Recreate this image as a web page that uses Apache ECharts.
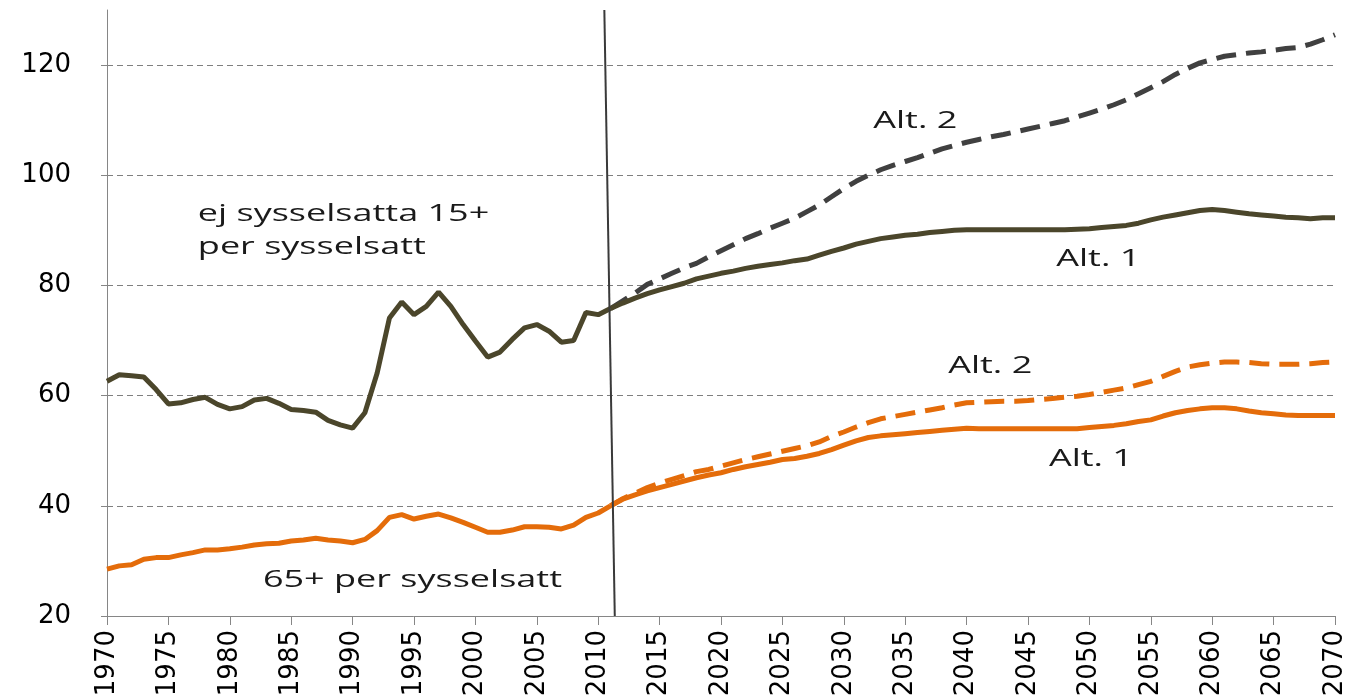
<!DOCTYPE html>
<html>
<head>
<meta charset="utf-8">
<script src="https://cdn.jsdelivr.net/npm/echarts@6/dist/echarts.min.js"></script>
<style>
html, body { margin: 0; padding: 0; background: #fff; }
#chart { width: 1350px; height: 696px; }
</style>
</head>
<body>
<div id="chart"></div>
<script>
// historiska värden 1970-2011
var histStart = 1970
var hist15 = [
    62.6, 63.8, 63.6, 63.4, 61.1, 58.5, 58.7, 59.3, 59.7, 58.4,
    57.6, 58.0, 59.2, 59.5, 58.6, 57.5, 57.3, 57.0, 55.5, 54.7,
    54.1, 56.9, 64.1, 74.1, 77.0, 74.7, 76.2, 78.8, 76.2, 72.9,
    69.9, 67.0, 67.9, 70.2, 72.3, 72.9, 71.7, 69.7, 70.0, 75.1,
    74.7, 75.8
]
var hist65 = [
    28.5, 29.1, 29.3, 30.3, 30.6, 30.6, 31.1, 31.5, 32.0, 32.0,
    32.2, 32.5, 32.9, 33.1, 33.2, 33.6, 33.8, 34.1, 33.8, 33.6,
    33.3, 33.9, 35.5, 37.9, 38.4, 37.6, 38.1, 38.5, 37.8, 37.0,
    36.1, 35.2, 35.2, 35.6, 36.2, 36.2, 36.1, 35.8, 36.5, 37.9,
    38.7, 40.0
]
// prognoser 2011-2070
var projStart = 2011
var alt1_15 = [
    75.8, 76.8, 77.7, 78.5, 79.2, 79.8, 80.4, 81.2, 81.7, 82.2,
    82.6, 83.1, 83.5, 83.8, 84.1, 84.5, 84.8, 85.5, 86.2, 86.8,
    87.5, 88.0, 88.5, 88.8, 89.1, 89.3, 89.6, 89.8, 90.0, 90.1,
    90.1, 90.1, 90.1, 90.1, 90.1, 90.1, 90.1, 90.1, 90.2, 90.3,
    90.5, 90.7, 90.9, 91.3, 91.9, 92.4, 92.8, 93.2, 93.6, 93.8,
    93.6, 93.3, 93.0, 92.8, 92.6, 92.4, 92.3, 92.1, 92.3, 92.3
]
var alt2_15 = [
    75.8, 77.2, 78.6, 80.2, 81.2, 82.2, 83.2, 84.0, 85.2, 86.3,
    87.4, 88.5, 89.4, 90.4, 91.3, 92.2, 93.4, 94.6, 96.1, 97.6,
    98.9, 100.0, 101.0, 101.8, 102.5, 103.2, 104.0, 104.8, 105.4, 106.0,
    106.5, 107.0, 107.4, 107.9, 108.4, 108.9, 109.4, 109.9, 110.6, 111.3,
    112.0, 112.8, 113.7, 114.8, 115.9, 117.0, 118.3, 119.4, 120.4, 121.0,
    121.6, 121.9, 122.2, 122.4, 122.7, 123.0, 123.2, 123.8, 124.6, 125.5
]
var alt1_65 = [
    40.0, 41.2, 42.0, 42.7, 43.3, 43.9, 44.5, 45.1, 45.6, 46.0,
    46.6, 47.1, 47.5, 47.9, 48.4, 48.6, 49.0, 49.5, 50.2, 51.0,
    51.8, 52.4, 52.7, 52.9, 53.1, 53.3, 53.5, 53.7, 53.9, 54.1,
    54.0, 54.0, 54.0, 54.0, 54.0, 54.0, 54.0, 54.0, 54.0, 54.2,
    54.4, 54.6, 54.9, 55.3, 55.6, 56.3, 56.9, 57.3, 57.6, 57.8,
    57.8, 57.6, 57.2, 56.9, 56.7, 56.5, 56.4, 56.4, 56.4, 56.4
]
var alt2_65 = [
    40.0, 41.3, 42.3, 43.3, 44.1, 44.8, 45.5, 46.2, 46.6, 47.2,
    47.8, 48.4, 48.9, 49.4, 49.9, 50.4, 50.9, 51.6, 52.6, 53.4,
    54.3, 55.1, 55.8, 56.2, 56.6, 57.0, 57.4, 57.8, 58.3, 58.7,
    58.8, 58.9, 59.0, 59.0, 59.1, 59.3, 59.5, 59.7, 59.9, 60.2,
    60.6, 61.0, 61.4, 62.0, 62.6, 63.5, 64.4, 65.2, 65.6, 65.9,
    66.1, 66.1, 66.0, 65.8, 65.7, 65.7, 65.7, 65.8, 66.0, 66.1
]
// brytlinje mellan utfall och prognos (år, värde)
var splitTop = [2010.5, 130]
var splitBottom = [2011.35, 20]
// textetiketter: [text, år, värde]
var notes = [
    ['ej sysselsatta 15+\nper sysselsatt', 1977.4, 89.9],
    ['Alt. 2', 2032.4, 109.8],
    ['Alt. 1', 2047.3, 84.7],
    ['Alt. 2', 2038.5, 65.3],
    ['Alt. 1', 2046.7, 48.4],
    ['65+ per sysselsatt', 1982.7, 26.5]
]

function pairs (start, vals) {
    return vals.map(function (v, i) { return [start + i, v] })
}

var dark = '#4b462b'
var darkDash = '#404040'
var orange = '#e46c0a'

var myChart = echarts.init(document.getElementById('chart'))
var option = {
    animation: false,
    grid: { left: 107, right: 15, top: 10, bottom: 80, outerBoundsMode: 'none', containLabel: false },
    xAxis: {
        type: 'value',
        min: 1970,
        max: 2070,
        interval: 5,
        axisLine: { lineStyle: { color: '#868686', width: 1 } },
        axisTick: { show: true, length: 9, lineStyle: { color: '#868686' } },
        axisLabel: {
            rotate: 90,
            margin: 14,
            color: '#000',
            fontFamily: 'DejaVu Sans',
            fontSize: 26,
            formatter: function (v) { return String(v) }
        },
        splitLine: { show: false }
    },
    yAxis: {
        type: 'value',
        min: 20,
        max: 130,
        interval: 20,
        axisLine: { show: true, lineStyle: { color: '#868686', width: 1 } },
        axisTick: { show: true, length: 6, lineStyle: { color: '#868686' } },
        axisLabel: {
            margin: 36,
            color: '#000',
            fontFamily: 'DejaVu Sans',
            fontSize: 26,
            showMaxLabel: false,
            formatter: function (v) { return v % 20 === 0 ? String(v) : '' }
        },
        splitLine: {
            show: true,
            showMaxLine: false,
            lineStyle: { color: '#7f7f7f', width: 1, type: [6, 4] }
        }
    },
    series: [
        {
            name: 'alt2_15',
            type: 'line',
            symbol: 'none',
            data: pairs(projStart, alt2_15),
            lineStyle: { color: darkDash, width: 5, type: [20, 10] }
        },
        {
            name: 'hist15',
            type: 'line',
            symbol: 'none',
            data: pairs(histStart, hist15),
            lineStyle: { color: dark, width: 5 },
            markLine: {
                silent: true,
                symbol: 'none',
                label: { show: false },
                lineStyle: { color: '#3a3a3a', width: 2, type: 'solid' },
                data: [[{ coord: splitTop }, { coord: splitBottom }]]
            }
        },
        {
            name: 'alt1_15',
            type: 'line',
            symbol: 'none',
            data: pairs(projStart, alt1_15),
            lineStyle: { color: dark, width: 5 }
        },
        {
            name: 'alt2_65',
            type: 'line',
            symbol: 'none',
            data: pairs(projStart, alt2_65),
            lineStyle: { color: orange, width: 5, type: [20, 10] }
        },
        {
            name: 'hist65',
            type: 'line',
            symbol: 'none',
            data: pairs(histStart, hist65),
            lineStyle: { color: orange, width: 5 }
        },
        {
            name: 'alt1_65',
            type: 'line',
            symbol: 'none',
            data: pairs(projStart, alt1_65),
            lineStyle: { color: orange, width: 5 }
        }
    ]
}
myChart.setOption(option)

// texter placeras via axlarnas skalor
var texts = notes.map(function (n) {
    var p = myChart.convertToPixel({ gridIndex: 0 }, [n[1], n[2]])
    return {
        type: 'text',
        x: p[0],
        y: p[1],
        scaleX: 1.5,
        silent: true,
        style: {
            text: n[0],
            fill: '#1a1a1a',
            font: '24px "Open Sans"',
            lineHeight: 33,
            verticalAlign: 'middle'
        }
    }
})
myChart.setOption({ graphic: texts })
</script>
</body>
</html>
